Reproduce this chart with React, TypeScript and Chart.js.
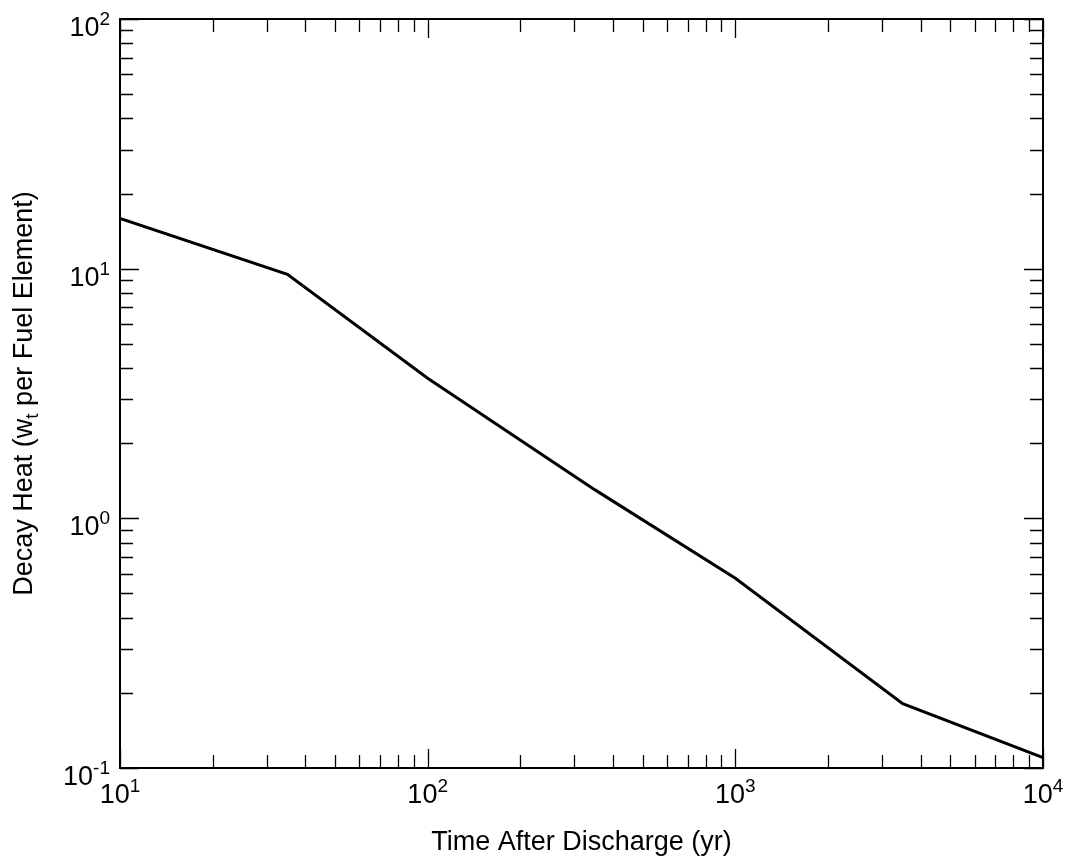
import React, { useEffect, useRef } from "react";
import { Chart, registerables } from "chart.js";

Chart.register(...registerables);

// Data
const timeYears: number[] = [10, 35, 100, 350, 1000, 3500, 10000];
const decayHeat: number[] = [15.9, 9.5, 3.64, 1.3, 0.575, 0.181, 0.11];

// Axis ticks
const xMajorTicks: number[] = [10, 100, 1000, 10000];
const xTickExponents: string[] = ["1", "2", "3", "4"];
const yMajorTicks: number[] = [0.1, 1, 10, 100];
const yTickExponents: string[] = ["-1", "0", "1", "2"];
const minorMultipliers: number[] = [2, 3, 4, 5, 6, 7, 8, 9];

const xTitle = "Time After Discharge (yr)";
const yTitleParts: string[] = ["Decay Heat (w", "t", " per Fuel Element)"];

const FONT = '"Liberation Sans", Arial, Helvetica, sans-serif';

const framePlugin = {
  id: "framePlugin",
  afterDraw(chart: any) {
    const ctx: CanvasRenderingContext2D = chart.ctx;
    const { left, right, top, bottom } = chart.chartArea;
    const xs = chart.scales.x;
    const ys = chart.scales.y;
    ctx.save();
    ctx.strokeStyle = "#000";
    ctx.fillStyle = "#000";

    // ticks
    const majorLen = 19;
    const minorLen = 13;
    ctx.lineWidth = 1.3;
    const drawXTick = (v: number, len: number) => {
      const px = Math.round(xs.getPixelForValue(v)) + 0.5;
      ctx.beginPath();
      ctx.moveTo(px, bottom);
      ctx.lineTo(px, bottom - len);
      ctx.moveTo(px, top);
      ctx.lineTo(px, top + len);
      ctx.stroke();
    };
    const drawYTick = (v: number, len: number) => {
      const py = Math.round(ys.getPixelForValue(v)) + 0.5;
      ctx.beginPath();
      ctx.moveTo(left, py);
      ctx.lineTo(left + len, py);
      ctx.moveTo(right, py);
      ctx.lineTo(right - len, py);
      ctx.stroke();
    };
    xMajorTicks.forEach((v, i) => {
      drawXTick(v, majorLen);
      if (i < xMajorTicks.length - 1) minorMultipliers.forEach((m) => drawXTick(v * m, minorLen));
    });
    yMajorTicks.forEach((v, i) => {
      drawYTick(v, majorLen);
      if (i < yMajorTicks.length - 1) minorMultipliers.forEach((m) => drawYTick(v * m, minorLen));
    });

    // frame
    ctx.lineWidth = 2;
    ctx.strokeRect(left, top, right - left, bottom - top);

    // tick labels
    const baseFont = `27px ${FONT}`;
    const supFont = `19px ${FONT}`;
    ctx.textBaseline = "alphabetic";
    ctx.textAlign = "left";
    const labelWidth = (exp: string) => {
      ctx.font = baseFont;
      const w1 = ctx.measureText("10").width;
      ctx.font = supFont;
      const w2 = ctx.measureText(exp).width;
      return [w1, w2];
    };
    const drawLabel = (x0: number, baseline: number, exp: string, w1: number) => {
      ctx.font = baseFont;
      ctx.fillText("10", x0, baseline);
      ctx.font = supFont;
      ctx.fillText(exp, x0 + w1, baseline - 11);
    };
    xMajorTicks.forEach((v, i) => {
      const px = xs.getPixelForValue(v);
      const [w1, w2] = labelWidth(xTickExponents[i]);
      drawLabel(px - (w1 + w2) / 2, bottom + 35, xTickExponents[i], w1);
    });
    yMajorTicks.forEach((v, i) => {
      const py = ys.getPixelForValue(v);
      const [w1, w2] = labelWidth(yTickExponents[i]);
      drawLabel(left - 10 - (w1 + w2), py + 17, yTickExponents[i], w1);
    });

    // x title
    ctx.font = baseFont;
    ctx.textAlign = "center";
    ctx.fillText(xTitle, (left + right) / 2, 850);

    // y title with subscript
    ctx.textAlign = "left";
    ctx.font = baseFont;
    const a = ctx.measureText(yTitleParts[0]).width;
    const c = ctx.measureText(yTitleParts[2]).width;
    ctx.font = supFont;
    const b = ctx.measureText(yTitleParts[1]).width;
    const total = a + b + c;
    ctx.translate(32, (top + bottom) / 2);
    ctx.rotate(-Math.PI / 2);
    let x = -total / 2;
    ctx.font = baseFont;
    ctx.fillText(yTitleParts[0], x, 0);
    x += a;
    ctx.font = supFont;
    ctx.fillText(yTitleParts[1], x, 6);
    x += b;
    ctx.font = baseFont;
    ctx.fillText(yTitleParts[2], x, 0);
    ctx.restore();
  },
};

export default function App() {
  const canvasRef = useRef<HTMLCanvasElement | null>(null);

  useEffect(() => {
    const canvas = canvasRef.current;
    if (!canvas) return;
    const chart = new Chart(canvas, {
      type: "line",
      data: {
        datasets: [
          {
            data: timeYears.map((t, i) => ({ x: t, y: decayHeat[i] })),
            borderColor: "#000",
            borderWidth: 3,
            pointRadius: 0,
            tension: 0,
            fill: false,
          },
        ],
      },
      options: {
        responsive: false,
        animation: false,
        devicePixelRatio: 1,
        layout: { padding: { left: 120, right: 24, top: 19, bottom: 90 } },
        scales: {
          x: { type: "logarithmic", min: 10, max: 10000, display: false },
          y: { type: "logarithmic", min: 0.1, max: 100, display: false },
        },
        plugins: { legend: { display: false }, tooltip: { enabled: false } },
      },
      plugins: [framePlugin],
    } as any);
    return () => chart.destroy();
  }, []);

  return (
    <div style={{ position: "absolute", left: 0, top: 0, width: 1067, height: 858, background: "#fff" }}>
      <canvas ref={canvasRef} width={1067} height={858} style={{ display: "block" }} />
    </div>
  );
}
